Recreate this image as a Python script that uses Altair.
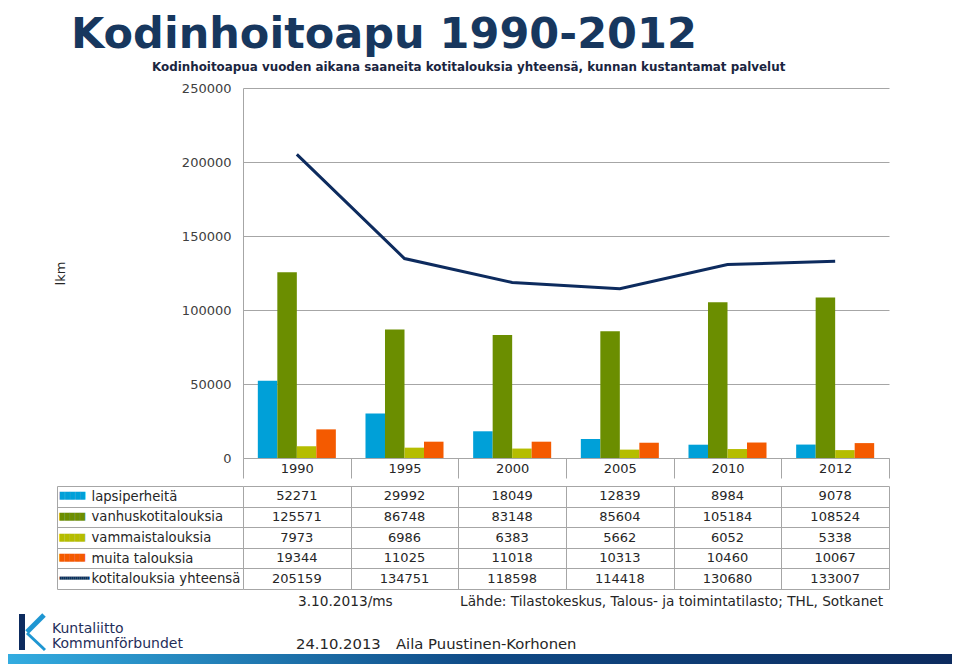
import altair as alt
import pandas as pd

# ---------------- data ----------------
years = ["1990", "1995", "2000", "2005", "2010", "2012"]
series = ["lapsiperheitä", "vanhuskotitalouksia", "vammaistalouksia", "muita talouksia"]
total_label = "kotitalouksia yhteensä"
lapsiperheita = [52271, 29992, 18049, 12839, 8984, 9078]
vanhuskotitalouksia = [125571, 86748, 83148, 85604, 105184, 108524]
vammaistalouksia = [7973, 6986, 6383, 5662, 6052, 5338]
muita_talouksia = [19344, 11025, 11018, 10313, 10460, 10067]
kotitalouksia_yhteensa = [205159, 134751, 118598, 114418, 130680, 133007]
y_tick_values = [0, 50000, 100000, 150000, 200000, 250000]

bar_colors = ["#00a0d8", "#6b8e00", "#b5bd00", "#f45a00"]
line_color = "#0d2b5e"

title_text = "Kodinhoitoapu 1990-2012"
subtitle_text = "Kodinhoitoapua vuoden aikana saaneita kotitalouksia yhteensä, kunnan kustantamat palvelut"
y_title = "lkm"
note_date = "3.10.2013/ms"
note_source = "Lähde: Tilastokeskus, Talous- ja toimintatilasto; THL, Sotkanet"
footer_date = "24.10.2013"
footer_author = "Aila Puustinen-Korhonen"
logo_line1 = "Kuntaliitto"
logo_line2 = "Kommunförbundet"

# ---------------- tables for the library ----------------
series_values = [lapsiperheita, vanhuskotitalouksia, vammaistalouksia, muita_talouksia]
bars_df = pd.DataFrame(
    [{"vuosi": y, "sarja": s, "arvo": v[i]}
     for s, v in zip(series, series_values) for i, y in enumerate(years)]
)
line_df = pd.DataFrame({"vuosi": years, "arvo": kotitalouksia_yhteensa})
rows = series + [total_label]
table_df = pd.DataFrame(
    [{"rivi": r, "vuosi": y, "arvo": str(v[i])}
     for r, v in zip(rows, series_values + [kotitalouksia_yhteensa]) for i, y in enumerate(years)]
)
rows_df = pd.DataFrame({"rivi": rows})
one_df = pd.DataFrame({"k": [0]})

# ---------------- style ----------------
FONT = "DejaVu Sans"
TXT = "#262626"
GRID = "#a6a6a6"
NAVY = "#17375e"

# ---------------- top chart: bars + line ----------------
x_enc = alt.X(
    "vuosi:N", sort=years, title=None,
    scale=alt.Scale(paddingInner=0, paddingOuter=0),
    axis=alt.Axis(orient="bottom", labelAngle=0, tickBand="extent", ticks=True, tickSize=20,
                  tickColor=GRID, domain=True, domainColor=GRID, labelPadding=-10,
                  labelBaseline="middle", labelFont=FONT, labelFontSize=13, labelColor=TXT,
                  grid=False),
)
y_enc = alt.Y(
    "arvo:Q", scale=alt.Scale(domain=[0, 250000], nice=False),
    axis=alt.Axis(values=y_tick_values, format="d", title=y_title, titleFont=FONT,
                  titleFontSize=13, titleFontWeight="normal", titleColor=TXT, titlePadding=114,
                  labelFont=FONT, labelFontSize=13, labelColor="#404040", labelPadding=12,
                  ticks=False, domainColor=GRID, gridColor=GRID),
)
bars = alt.Chart(bars_df).mark_bar().encode(
    x=x_enc,
    xOffset=alt.XOffset("sarja:N", sort=series,
                        scale=alt.Scale(paddingInner=0, paddingOuter=0.76)),
    y=y_enc,
    color=alt.Color("sarja:N", sort=series,
                    scale=alt.Scale(domain=series, range=bar_colors), legend=None),
)
line = alt.Chart(line_df).mark_line(color=line_color, strokeWidth=3).encode(x=x_enc, y=y_enc)

top = alt.layer(bars, line).properties(
    width=646, height=370,
    title=alt.TitleParams(subtitle_text, anchor="start", frame="group", dx=-91,
                          font=FONT, fontSize=11.9, fontWeight="bold", color="#1a2540",
                          offset=8),
)

# ---------------- data table ----------------
tx = alt.X(
    "vuosi:N", sort=years, title=None, scale=alt.Scale(paddingInner=0, paddingOuter=0),
    axis=alt.Axis(orient="top", labels=False, ticks=False, domain=False, grid=True,
                  tickBand="extent", gridColor=GRID),
)
ty = alt.Y(
    "rivi:N", sort=rows, title=None, scale=alt.Scale(paddingInner=0, paddingOuter=0),
    axis=alt.Axis(orient="left", grid=True, gridColor=GRID, tickBand="extent", ticks=True,
                  tickSize=186, tickColor=GRID, domain=False, labelAlign="left",
                  labelPadding=-34, labelFont=FONT, labelFontSize=13.2, labelColor=TXT,
                  labelBaseline="middle"),
)
cells = alt.Chart(table_df).mark_text(font=FONT, fontSize=13, color=TXT).encode(
    x=tx, y=ty, text="arvo:N")

color_expr = "".join(f"datum.value == '{r}' ? '{c}' : " for r, c in zip(series, bar_colors)) + f"'{line_color}'"
label_expr = f"datum.value == '{total_label}' ? '{'█' * 15}' : '{'█' * 5}'"
size_expr = f"datum.value == '{total_label}' ? 2.6 : 6.7"

sym = alt.Chart(rows_df).mark_text(text="").encode(
    y=alt.Y("rivi:N", sort=rows, title=None, scale=alt.Scale(paddingInner=0, paddingOuter=0),
            axis=alt.Axis(orient="left", offset=186, domain=True, domainColor=GRID,
                          ticks=False, grid=False, labelAlign="left", labelPadding=-2,
                          labelExpr=label_expr, labelColor=alt.ExprRef(color_expr),
                          labelFontSize=alt.ExprRef(size_expr), labelFont=FONT,
                          labelBaseline="middle"))
)

deco = alt.Chart(one_df)


def deco_text(txt, x, y, size, color=TXT):
    return deco.mark_text(text=txt, align="left", baseline="middle", font=FONT,
                          fontSize=size, color=color).encode(x=alt.value(x), y=alt.value(y))


strip = deco.mark_rect(
    fill=alt.Gradient(gradient="linear",
                      stops=[alt.GradientStop(color="#33ace0", offset=0),
                             alt.GradientStop(color="#0f4a86", offset=0.5),
                             alt.GradientStop(color="#0d2b5e", offset=1)],
                      x1=0, x2=1, y1=0, y2=0)
).encode(x=alt.value(-235), x2=alt.value(709), y=alt.value(168), y2=alt.value(180))

logo_bar = deco.mark_rect(color="#0d2b5e").encode(
    x=alt.value(-224), x2=alt.value(-218), y=alt.value(128), y2=alt.value(164))
logo_arm1 = deco.mark_rule(color="#1e96d2", strokeWidth=5).encode(
    x=alt.value(-199), y=alt.value(129), x2=alt.value(-216), y2=alt.value(146))
logo_arm2 = deco.mark_rule(color="#1e96d2", strokeWidth=3).encode(
    x=alt.value(-216), y=alt.value(147), x2=alt.value(-198), y2=alt.value(164))

table = alt.layer(
    cells, sym, strip, logo_bar, logo_arm1, logo_arm2,
    deco_text(note_date, 55, 116, 13.7),
    deco_text(note_source, 217, 116, 13.7),
    deco_text(footer_date, 53, 159, 14.8),
    deco_text(footer_author, 153, 159, 14.8),
    deco_text(logo_line1, -191, 143, 14, "#1f2e5a"),
    deco_text(logo_line2, -191, 158, 14, "#1f2e5a"),
).resolve_axis(y="independent").properties(width=646, height=103)

chart = alt.vconcat(top, table, spacing=0).properties(
    title=alt.TitleParams(title_text, anchor="start", frame="bounds", dx=63, offset=4,
                          font=FONT, fontSize=43, fontWeight="bold", color=NAVY),
    padding={"left": 0, "top": 6, "right": 0, "bottom": 0},
).configure_view(strokeWidth=0)

chart.save("out.html", embed_options={"renderer": "svg", "actions": False})
